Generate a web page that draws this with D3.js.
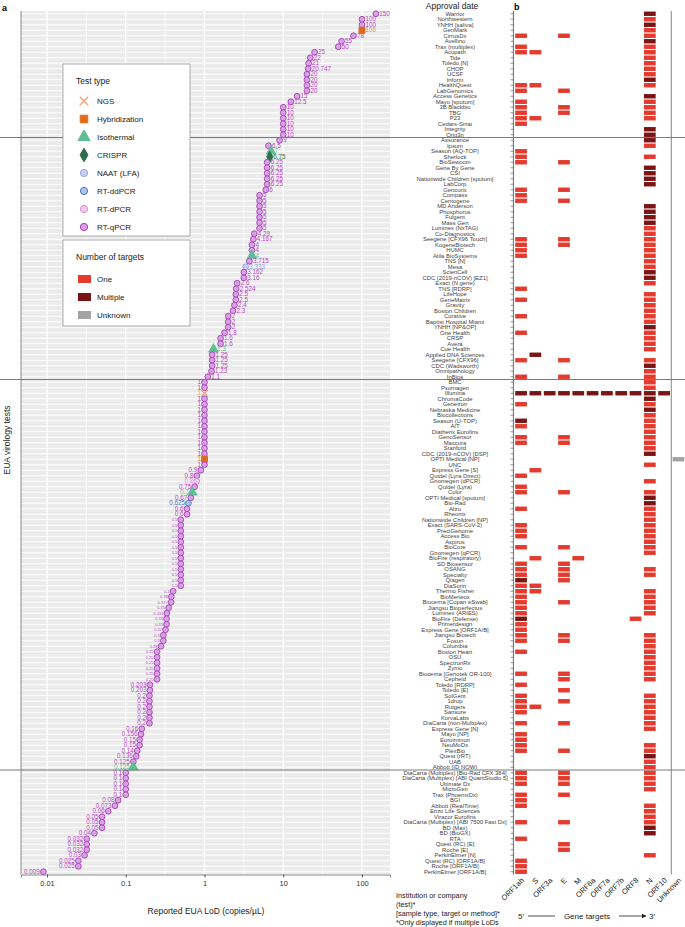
<!DOCTYPE html>
<html><head><meta charset="utf-8">
<script src="https://cdn.jsdelivr.net/npm/d3@7"></script>
<style>body{margin:0;background:#fff} text{font-family:"Liberation Sans",Arial,sans-serif}</style>
</head><body><svg id="c" width="685" height="927"></svg>
<script>
const tests = ["Warrior","Northwestern","YNHH [saliva]","GenMark","CirrusDx","Avellino","Trax (multiplex)","Acupath","Tide","Toledo [N]",
"CHOP","UCSF","Inform","HealthQuest","LabGenomics","Access Genetics","Mayo [sputum]","3B Blackbio","TBG","P23",
"Cedars-Sinai","Integrity","Orig3n","Assurance","Ipsum","Seasun (AQ-TOP)","Sherlock","BioSewoom","Gene By Gene","CSI",
"Nationwide Children [sputum]","LabCorp","Gencurix","Compass","Centogene","MD Anderson","Phosphorus","Fulgent","Mass Gen","Luminex (NxTAG)",
"Co-Diagnostics","Seegene [CFX96 Touch]","KogeneBiotech","HUMC","Atila BioSystems","TNS [N]","Mesa","ScienCell","CDC (2019-nCOV) [EZ1]","Exact (N gene)",
"TNS [RDRP]","LifeHope","GeneMatrix","Gravity","Boston Children","Curative","Baptist Hospital Miami","YNHH [NP&OP]","One Health","CRSP",
"Avera","Cue Health","Applied DNA Sciences","Seegene [CFX96]","CDC (Wadsworth)","Omnipathology","InBios","BMC","Psomagen","Illumina",
"ChromaCode","Genetron","Nebraska Medicine","Biocollections","Seasun (U-TOP)","AIT","Diatherix Eurofins","GenoSensor","Maccura","Stanford",
"CDC (2019-nCOV) [DSP]","OPTI Medical [NP]","UNC","Express Gene [S]","Quidel (Lyra Direct)","Gnomegen (dPCR)","Quidel (Lyra)","Color","OPTI Medical [sputum]","Bio-Rad",
"Altru","Rheonix","Nationwide Children [NP]","Exact (SARS-CoV-2)","PreciGenome","Access Bio","Aspirus","BioCore","Gnomegen (qPCR)","BioFire (respiratory)",
"SD Biosensor","OSANG","Specialty","Qiagen","DiaSorin","Thermo Fisher","BioMerieux","Biocerna [Copan eSwab]","Jiangsu Bioperfectus","Luminex (ARIES)",
"BioFire (Defense)","Primerdesign","Express Gene [ORF1A/B]","Jiangsu Biotech","Fosun","Columbia","Boston Heart","OSU","SpectronRx","Zymo",
"Biocerna [Genotek OR-100]","Cepheid","Toledo [RDRP]","Toledo [E]","SolGent","1drop","Rutgers","Sansure","KorvaLabs","DiaCarta (non-Multiplex)",
"Express Gene [N]","Mayo [NP]","Euroimmun","NeuMoDx","PlexBio","Quest (rRT)","UAB","Abbott (ID NOW)","DiaCarta (Multiplex) [Bio-Rad CFX 384]","DiaCarta (Multiplex) [ABI QuantStudio 5]",
"Ultimate Dx","MicroGen","Trax (PhoenixDx)","BGI","Abbott (RealTime)","Enzo Life Sciences","Viracor Eurofins","DiaCarta (Multiplex) [ABI 7500 Fast Dx]","BD (Max)","BD (BioGX)",
"RTA","Quest (RC) [E]","Roche [E]","PerkinElmer [N]","Quest (RC) [ORF1A/B]","Roche [ORF1A/B]","PerkinElmer [ORF1A/B]"];

const lod = [150,100,100,100,78,55,50,25,22,21,
20.747,20,20,20,20,15,12.5,10,10,10,
10,10,10,9,6.5,7,6.75,6.25,6.25,6.25,
6.25,6.25,6,5,5,5,5,5,5,5,
4.29,4.167,4,4,4,3.715,3.333,3.162,3.16,2.6,
2.524,2.5,2.5,2.4,2.3,2,2,2,1.8,1.6,
1.6,1.3,1.25,1.25,1.25,1.23,1.1,1,1,1,
1,1,1,1,1,1,1,1,1,1,
1,1,1,0.9,0.8,0.8,0.75,0.7,0.67,0.625,
0.6,0.6,0.5,0.5,0.5,0.5,0.5,0.5,0.5,0.5,
0.5,0.5,0.5,0.5,0.5,0.4,0.38,0.377,0.35,0.333,
0.33,0.33,0.32,0.3,0.3,0.28,0.25,0.25,0.25,0.25,
0.25,0.25,0.203,0.203,0.2,0.2,0.2,0.2,0.2,0.2,
0.16,0.156,0.15,0.15,0.14,0.136,0.125,0.125,0.1,0.1,
0.1,0.1,0.1,0.08,0.073,0.06,0.05,0.05,0.05,0.04,
0.032,0.032,0.032,0.03,0.025,0.025,0.009];

// test type code per row: q RT-qPCR, d RT-dPCR, b RT-ddPCR, l NAAT (LFA), c CRISPR, i Isothermal, h Hybridization, n NGS
const methodCodes = ("qqqhqqqqqq"+"qqqqqqqqqq"+"qqqqqicqqq"+"qqqqqqqqqq"+"qqqqiqlqqq"+
"qqqqqqqqqq"+"qiqqqqqqqn"+"qqqqqqqqqq"+"qhqqqdqiqb"+"qqqqqqqqqq"+
"qqqqqqqqqq"+"qqqqqqqqqq"+"qqqqqqqqqq"+"qqqqqqqiqq"+"qqqqqqqqqq"+"qqqqqqq").split("");

// gene targets per row; "+" = multiple targets in gene, "?" = unknown
const targets = ["N+","N","N+","N","ORF1ab E N","N+","ORF1ab N","ORF1ab S N","N","N",
"N","N","N+","ORF1ab S N","ORF1ab E","N+","ORF1ab N","ORF1ab E N","ORF1ab E N","ORF1ab S N",
"ORF1ab","N+","N+","N+","N","ORF1ab","ORF1ab N","ORF1ab E","N+","N+",
"N+","N+","ORF1ab E","ORF1ab","ORF1ab E","N+","N+","N+","N+","N",
"N","ORF1ab E N","ORF1ab E N","ORF1ab N","ORF1ab N","N","N","N+","N+","N",
"ORF1ab","N","ORF1ab N","N","N","ORF1ab N","N","N+","ORF1ab N","N",
"N","N","S+","ORF1ab E N","N+","N","ORF1ab E N","N","N","ORF1ab+ S+ ORF3a+ E+ M+ ORF6a+ ORF7a+ ORF7b+ ORF8+ N+ ORF10+",
"N+","ORF1ab N","N+","N","ORF1ab+ N","ORF1ab N","N","ORF1ab E N","ORF1ab E N","N",
"N+","?","N","S","ORF1ab","N","ORF1ab","ORF1ab E N","N+","N+",
"ORF1ab N","N","N","ORF1ab N","ORF1ab N","ORF1ab N","N","ORF1ab E N","N","S M",
"ORF1ab E","ORF1ab E N","ORF1ab E N","ORF1ab+ E","ORF1ab S","ORF1ab S N","ORF1ab N","ORF1ab E N","ORF1ab N","ORF1ab N",
"ORF1ab+ ORF8","ORF1ab","ORF1ab","ORF1ab E N","ORF1ab E N","N","ORF1ab N","N","N","N",
"ORF1ab E N","E N","ORF1ab","E","ORF1ab N","ORF1ab E N","ORF1ab S N","ORF1ab N","N","ORF1ab E N",
"N","ORF1ab","ORF1ab","ORF1ab N","ORF1ab E N","N+","N","N","ORF1ab E N","ORF1ab E N",
"ORF1ab E N","N","ORF1ab E","ORF1ab","ORF1ab N","N","N","ORF1ab E N","N+","N+",
"ORF1ab","E","E","N","ORF1ab","ORF1ab","ORF1ab"];

const genes = ["ORF1ab","S","ORF3a","E","M","ORF6a","ORF7a","ORF7b","ORF8","N","ORF10","Unknown"];
const xTicks = [0.01,0.1,1,10,100];
const xMinor = [0.00316,0.0316,0.316,3.16,31.6];
const groupStarts = [23,67,138];
const typeNames = ["NGS","Hybridization","Isothermal","CRISPR","NAAT (LFA)","RT-ddPCR","RT-dPCR","RT-qPCR"];
const typeCodes = ["n","h","i","c","l","b","d","q"];
const targetNames = ["One","Multiple","Unknown"];

const typeStyle = {
  n:{shape:d3.symbolTimes,size:30,fill:"none",stroke:"#f4a27a",text:"#f4a27a"},
  h:{shape:d3.symbolSquare,size:36,fill:"#e06a1c",stroke:"#e06a1c",text:"#e58a3a"},
  i:{shape:d3.symbolTriangle,size:40,fill:"#5fbf93",stroke:"#5fbf93",text:"#5fbf93"},
  c:{shape:d3.symbolDiamond,size:34,fill:"#2e6e4c",stroke:"#2e6e4c",text:"#2e6e4c"},
  l:{shape:d3.symbolCircle,size:26,fill:"#c9cdf2",stroke:"#9aa6e0",text:"#9aa6e0"},
  b:{shape:d3.symbolCircle,size:26,fill:"#aac4e8",stroke:"#4f79c0",text:"#4f79c0"},
  d:{shape:d3.symbolCircle,size:26,fill:"#f3c8ef",stroke:"#d890d8",text:"#d890d8"},
  q:{shape:d3.symbolCircle,size:26,fill:"#d9a3e3",stroke:"#a33fb3",text:"#b846c4"}
};
const targetColor = {One:"#e53a2e",Multiple:"#7b1515",Unknown:"#a3a3a3"};

const svg = d3.select("#c");
const x = d3.scaleLog().domain([0.004677,226.8]).range([21,390]);
const y = d3.scaleBand().domain(d3.range(tests.length)).range([11,874.5]);
const yc = i => y(i) + y.bandwidth()/2;

// panel a background
svg.append("rect").attr("x",21).attr("y",11).attr("width",369).attr("height",863.5).attr("fill","#ebebeb");
svg.selectAll(".hg").data(d3.range(tests.length)).join("line")
  .attr("x1",21).attr("x2",390).attr("y1",d=>yc(d)).attr("y2",d=>yc(d))
  .attr("stroke","#fff").attr("stroke-width",1);
svg.selectAll(".vmin").data(xMinor.filter(v=>x(v)>21)).join("line")
  .attr("x1",d=>x(d)).attr("x2",d=>x(d)).attr("y1",11).attr("y2",874.5)
  .attr("stroke","#fff").attr("stroke-width",0.7);
svg.selectAll(".vmaj").data(xTicks).join("line")
  .attr("x1",d=>x(d)).attr("x2",d=>x(d)).attr("y1",11).attr("y2",874.5)
  .attr("stroke","#fff").attr("stroke-width",1.3);

// axes
const xAxis = d3.axisBottom(x).tickValues(xTicks).tickFormat(d3.format("~g")).tickSize(3).tickPadding(3);
const gx = svg.append("g").attr("transform","translate(0,874.5)").call(xAxis);
gx.select(".domain").attr("stroke","#888");
gx.selectAll(".tick line").attr("stroke","#555");
gx.selectAll("text").attr("font-size",7.5).attr("fill","#333");
svg.append("line").attr("x1",21).attr("x2",21).attr("y1",11).attr("y2",874.5).attr("stroke","#888");

svg.append("text").attr("x",206).attr("y",914).attr("text-anchor","middle").attr("font-size",8.5).attr("fill","#222")
  .text("Reported EUA LoD (copies/µL)");
svg.append("text").attr("transform","translate(10,440) rotate(-90)").attr("text-anchor","middle").attr("font-size",8.5).attr("fill","#222")
  .text("EUA virology tests");
svg.append("text").attr("x",2).attr("y",11).attr("font-size",9).attr("font-weight","bold").text("a");
svg.append("text").attr("x",514).attr("y",10).attr("font-size",9).attr("font-weight","bold").text("b");

// points
const pts = svg.append("g");
d3.range(tests.length).forEach(i=>{
  const st = typeStyle[methodCodes[i]];
  const sym = d3.symbol().type(st.shape).size(st.size);
  pts.append("path").attr("d",sym()).attr("transform",`translate(${x(lod[i])},${yc(i)})`)
    .attr("fill",st.fill).attr("stroke",st.stroke).attr("stroke-width",methodCodes[i]==="n"?1.3:0.9);
});
// value labels
const small = v => v>=0.25 && v<=0.5;
d3.range(tests.length).forEach(i=>{
  const v = lod[i], st = typeStyle[methodCodes[i]];
  const right = v>1;
  pts.append("text").attr("x",x(v)+(right?3.5:-3.5)).attr("y",yc(i)+ (small(v)?1.5:2.2))
    .attr("text-anchor",right?"start":"end").attr("font-size",small(v)?4:6.3)
    .attr("fill",st.text).text(String(v));
});

// test name labels
svg.append("text").attr("x",452).attr("y",9).attr("text-anchor","middle").attr("font-size",8.5).attr("fill","#222").text("Approval date");
svg.selectAll(".tl").data(d3.range(tests.length)).join("text")
  .attr("x",455).attr("y",d=>yc(d)+2).attr("text-anchor","middle").attr("font-size",5.9)
  .attr("fill","#444").text(d=>tests[d]);

// panel b
const gxB = d3.scaleBand().domain(genes).range([513.9,685.6]).paddingInner(0.18).paddingOuter(0.09);
svg.append("line").attr("x1",513.4).attr("x2",513.4).attr("y1",11).attr("y2",874.5).attr("stroke","#444").attr("stroke-width",0.8);
svg.selectAll(".tk").data(d3.range(tests.length)).join("line")
  .attr("x1",510.5).attr("x2",513.4).attr("y1",d=>yc(d)).attr("y2",d=>yc(d)).attr("stroke","#555").attr("stroke-width",0.6);
const sepX = (gxB("ORF10")+gxB.bandwidth()+gxB("Unknown"))/2;
svg.append("line").attr("x1",sepX).attr("x2",sepX).attr("y1",11).attr("y2",874.5).attr("stroke","#777").attr("stroke-width",0.9);
const bars = [];
targets.forEach((s,i)=>{
  s.split(" ").forEach(tok=>{
    if(!tok) return;
    if(tok==="?") bars.push({i,g:"Unknown",t:"Unknown"});
    else if(tok.endsWith("+")) bars.push({i,g:tok.slice(0,-1),t:"Multiple"});
    else bars.push({i,g:tok,t:"One"});
  });
});
svg.selectAll(".bar").data(bars).join("rect")
  .attr("x",d=>gxB(d.g)).attr("width",gxB.bandwidth())
  .attr("y",d=>yc(d.i)-2.2).attr("height",4.4).attr("fill",d=>targetColor[d.t]);
genes.forEach(g=>{
  const cx = gxB(g)+gxB.bandwidth()/2;
  svg.append("text").attr("transform",`translate(${cx+1.5},${879}) rotate(-45)`).attr("text-anchor","end")
    .attr("dy","0.35em").attr("font-size",7.5).attr("fill","#222").text(g);
});
// separators
groupStarts.forEach(g=>{
  const yy = y(g);
  svg.append("line").attr("x1",0).attr("x2",685).attr("y1",yy).attr("y2",yy).attr("stroke","#7a7a7a").attr("stroke-width",1.1);
});

// gene direction arrow
svg.append("defs").append("marker").attr("id","ah").attr("viewBox","0 0 10 10").attr("refX",9).attr("refY",5)
  .attr("markerWidth",6).attr("markerHeight",6).attr("orient","auto")
  .append("path").attr("d","M0,0L10,5L0,10z").attr("fill","#222");
svg.append("line").attr("x1",528).attr("x2",646).attr("y1",916).attr("y2",916).attr("stroke","#222").attr("stroke-width",0.8).attr("marker-end","url(#ah)");
svg.append("rect").attr("x",555).attr("y",910).attr("width",64).attr("height",10).attr("fill","#fff");
svg.append("text").attr("x",587).attr("y",918.5).attr("text-anchor","middle").attr("font-size",8).attr("fill","#222").text("Gene targets");
svg.append("text").attr("x",518).attr("y",918.5).attr("font-size",8).attr("fill","#222").text("5′");
svg.append("text").attr("x",649).attr("y",918.5).attr("font-size",8).attr("fill","#222").text("3′");

// footnote
["Institution or company","(test)*","[sample type, target or method]*","*Only displayed if multiple LoDs"].forEach((t,k)=>{
  svg.append("text").attr("x",396).attr("y",898+k*9).attr("font-size",7.3).attr("fill","#222").text(t);
});

// legend
const lg = svg.append("g");
lg.append("rect").attr("x",63).attr("y",64).attr("width",127).attr("height",172).attr("fill","#fff").attr("stroke","#999").attr("stroke-width",0.8);
lg.append("text").attr("x",76).attr("y",84).attr("font-size",8.5).attr("fill","#222").text("Test type");
typeNames.forEach((n,k)=>{
  const st = typeStyle[typeCodes[k]], yy = 101 + k*18;
  lg.append("path").attr("d",d3.symbol().type(st.shape).size(st.size*1.6)()).attr("transform",`translate(84,${yy})`)
    .attr("fill",st.fill).attr("stroke",st.stroke).attr("stroke-width",typeCodes[k]==="n"?1.5:1);
  lg.append("text").attr("x",97).attr("y",yy+3).attr("font-size",8).attr("fill","#222").text(n);
});
lg.append("rect").attr("x",63).attr("y",240).attr("width",127).attr("height",86).attr("fill","#fff").attr("stroke","#999").attr("stroke-width",0.8);
lg.append("text").attr("x",76).attr("y",260).attr("font-size",8.5).attr("fill","#222").text("Number of targets");
targetNames.forEach((n,k)=>{
  const yy = 279 + k*18;
  lg.append("rect").attr("x",78).attr("y",yy-4).attr("width",13).attr("height",8).attr("fill",targetColor[n]);
  lg.append("text").attr("x",97).attr("y",yy+3).attr("font-size",8).attr("fill","#222").text(n);
});
</script></body></html>
